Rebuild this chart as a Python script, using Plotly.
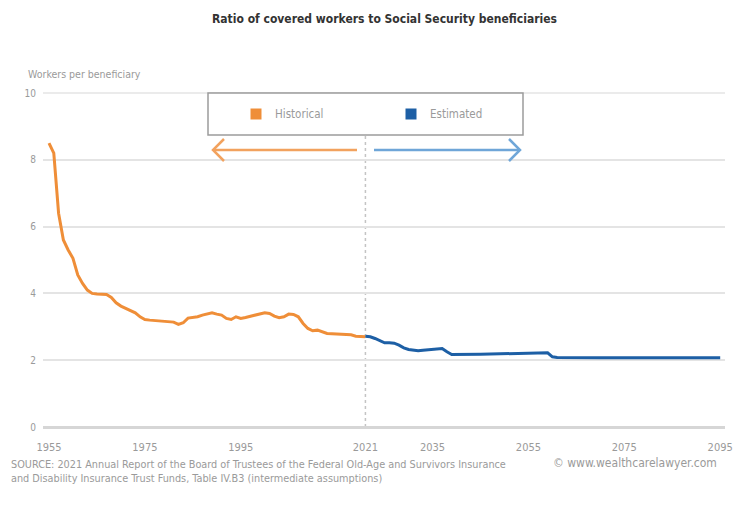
import plotly.graph_objects as go

# ---------------- data ----------------
hist_years = [1955, 1956, 1957, 1958, 1959, 1960, 1961, 1962, 1963, 1964,
              1965, 1966, 1967, 1968, 1969, 1970, 1971, 1972, 1973, 1974,
              1975, 1976, 1977, 1978, 1979, 1980, 1981, 1982, 1983, 1984,
              1985, 1986, 1987, 1988, 1989, 1990, 1991, 1992, 1993, 1994,
              1995, 1996, 1997, 1998, 1999, 2000, 2001, 2002, 2003, 2004,
              2005, 2006, 2007, 2008, 2009, 2010, 2011, 2012, 2013, 2014,
              2015, 2016, 2017, 2018, 2019, 2020, 2021]
hist_ratio = [8.5, 8.2, 6.4, 5.6, 5.3, 5.05, 4.55, 4.3, 4.1, 4.0,
              3.98, 3.98, 3.97, 3.88, 3.72, 3.62, 3.55, 3.48, 3.42, 3.3,
              3.22, 3.2, 3.19, 3.18, 3.17, 3.16, 3.14, 3.07, 3.12, 3.26,
              3.27, 3.3, 3.35, 3.38, 3.42, 3.38, 3.35, 3.25, 3.22, 3.3,
              3.25, 3.28, 3.32, 3.36, 3.4, 3.42, 3.4, 3.32, 3.27, 3.3,
              3.38, 3.37, 3.3, 3.1, 2.95, 2.88, 2.9, 2.86, 2.8, 2.79,
              2.78, 2.78, 2.78, 2.76, 2.72, 2.7, 2.7]

est_years = [2021, 2022, 2023, 2024, 2025, 2026, 2027, 2028, 2029, 2030,
             2031, 2032, 2033, 2034, 2035, 2036, 2037, 2038, 2039, 2045,
             2050, 2055, 2059, 2060, 2061, 2070, 2080, 2095]
est_ratio = [2.72, 2.7, 2.65, 2.58, 2.52, 2.52, 2.51, 2.45, 2.37, 2.32,
             2.29, 2.28, 2.3, 2.31, 2.32, 2.33, 2.35, 2.25, 2.17, 2.18,
             2.2, 2.21, 2.22, 2.1, 2.08, 2.07, 2.07, 2.07]

x_tick_vals = [1955, 1975, 1995, 2021, 2035, 2055, 2075, 2095]
x_tick_text = ["1955", "1975", "1995", "2021", "2035", "2055", "2075", "2095"]
y_tick_vals = [0, 2, 4, 6, 8, 10]
y_tick_text = ["0", "2", "4", "6", "8", "10"]

# ---------------- style ----------------
W, H = 745, 508
ML, MR, MT, MB = 43, 20, 92, 81
PW, PH = W - ML - MR, H - MT - MB
FONT = "Liberation Sans Narrow, DejaVu Sans Condensed, Roboto Condensed, Arial Narrow, sans-serif"
ORANGE = "#EF8E38"
BLUE = "#1D5FA5"
ORANGE_LT = "#F2A25E"
BLUE_LT = "#6FA6D8"
GRAY_TXT = "#9a9a9a"
GRID = "#e4e4e4"


def px(x):
    return (x - ML) / PW


def py(y):
    return (MT + PH - y) / PH


fig = go.Figure()
fig.add_trace(go.Scatter(x=hist_years, y=hist_ratio, mode="lines",
                         line=dict(color=ORANGE, width=3), name="Historical",
                         showlegend=False))
fig.add_trace(go.Scatter(x=est_years, y=est_ratio, mode="lines",
                         line=dict(color=BLUE, width=3), name="Estimated",
                         showlegend=False))

shapes = []
# top gridline (at the range edge)
shapes.append(dict(type="line", xref="paper", yref="y", x0=0, x1=1,
                   y0=y_tick_vals[-1], y1=y_tick_vals[-1],
                   line=dict(color=GRID, width=1.5), layer="below"))
# legend box
shapes.append(dict(type="rect", xref="paper", yref="paper",
                   x0=px(208), x1=px(523), y0=py(135), y1=py(93),
                   line=dict(color="#9c9c9c", width=1.5), fillcolor="white",
                   layer="above"))
# dotted divider at 2021
shapes.append(dict(type="line", xref="x", yref="paper",
                   x0=2021, x1=2021, y0=0, y1=py(97),
                   line=dict(color="#c4c4c4", width=1.5, dash="dot"),
                   layer="below"))
# legend swatches
shapes.append(dict(type="rect", xref="paper", yref="paper",
                   x0=px(250.5), x1=px(261.5), y0=py(119.5), y1=py(108.5),
                   line=dict(width=0), fillcolor=ORANGE))
shapes.append(dict(type="rect", xref="paper", yref="paper",
                   x0=px(405.5), x1=px(416.5), y0=py(119.5), y1=py(108.5),
                   line=dict(width=0), fillcolor=BLUE))


def path(points):
    return "M " + " L ".join(f"{px(a)},{py(b)}" for a, b in points)


# orange arrow (left)
shapes.append(dict(type="path", xref="paper", yref="paper",
                   path=path([(213, 150), (357, 150)]),
                   line=dict(color=ORANGE_LT, width=2.5)))
shapes.append(dict(type="path", xref="paper", yref="paper",
                   path=path([(224, 139), (213, 150), (224, 161)]),
                   line=dict(color=ORANGE_LT, width=2.5)))
# blue arrow (right)
shapes.append(dict(type="path", xref="paper", yref="paper",
                   path=path([(374, 150), (520, 150)]),
                   line=dict(color=BLUE_LT, width=2.5)))
shapes.append(dict(type="path", xref="paper", yref="paper",
                   path=path([(509, 139), (520, 150), (509, 161)]),
                   line=dict(color=BLUE_LT, width=2.5)))

annotations = [
    dict(text="<b>Ratio of covered workers to Social Security beneficiaries</b>",
         xref="paper", yref="paper", x=px(384), y=py(19),
         xanchor="center", yanchor="middle", showarrow=False,
         font=dict(family=FONT, size=12, color="#333333")),
    dict(text="Workers per beneficiary", xref="paper", yref="paper",
         x=px(26), y=py(74), xanchor="left", yanchor="middle", showarrow=False,
         font=dict(family=FONT, size=10.5, color=GRAY_TXT)),
    dict(text="Historical", xref="paper", yref="paper",
         x=px(273), y=py(114), xanchor="left", yanchor="middle", showarrow=False,
         font=dict(family=FONT, size=11.5, color=GRAY_TXT)),
    dict(text="Estimated", xref="paper", yref="paper",
         x=px(428), y=py(114), xanchor="left", yanchor="middle", showarrow=False,
         font=dict(family=FONT, size=11.5, color=GRAY_TXT)),
    dict(text="SOURCE: 2021 Annual Report of the Board of Trustees of the Federal Old-Age and Survivors Insurance"
              "<br>and Disability Insurance Trust Funds, Table IV.B3 (intermediate assumptions)",
         xref="paper", yref="paper", x=px(9), y=py(456), xanchor="left", yanchor="top",
         align="left", showarrow=False,
         font=dict(family=FONT, size=10.8, color=GRAY_TXT)),
    dict(text="© www.wealthcarelawyer.com", xref="paper", yref="paper",
         x=px(719), y=py(463), xanchor="right", yanchor="middle", showarrow=False,
         font=dict(family=FONT, size=12, color=GRAY_TXT)),
]

fig.update_layout(
    width=W, height=H,
    margin=dict(l=ML, r=MR, t=MT, b=MB, pad=0),
    paper_bgcolor="white", plot_bgcolor="white",
    font=dict(family=FONT, size=11, color=GRAY_TXT),
    shapes=shapes, annotations=annotations,
    showlegend=False,
    xaxis=dict(range=[1953.75, 2096], tickmode="array", tickvals=x_tick_vals,
               ticktext=x_tick_text, showgrid=False, zeroline=False,
               showline=False, ticks="", ticklabelstandoff=12,
               tickfont=dict(family=FONT, size=11, color=GRAY_TXT)),
    yaxis=dict(range=[0, 10.03], tickmode="array", tickvals=y_tick_vals,
               ticktext=y_tick_text, showgrid=True, gridcolor=GRID,
               gridwidth=1.5, zeroline=True, zerolinecolor="#d6d6d6",
               zerolinewidth=3, showline=False, ticks="", ticklabelstandoff=6,
               tickfont=dict(family=FONT, size=10, color=GRAY_TXT)),
)

fig.write_html("out.html")
